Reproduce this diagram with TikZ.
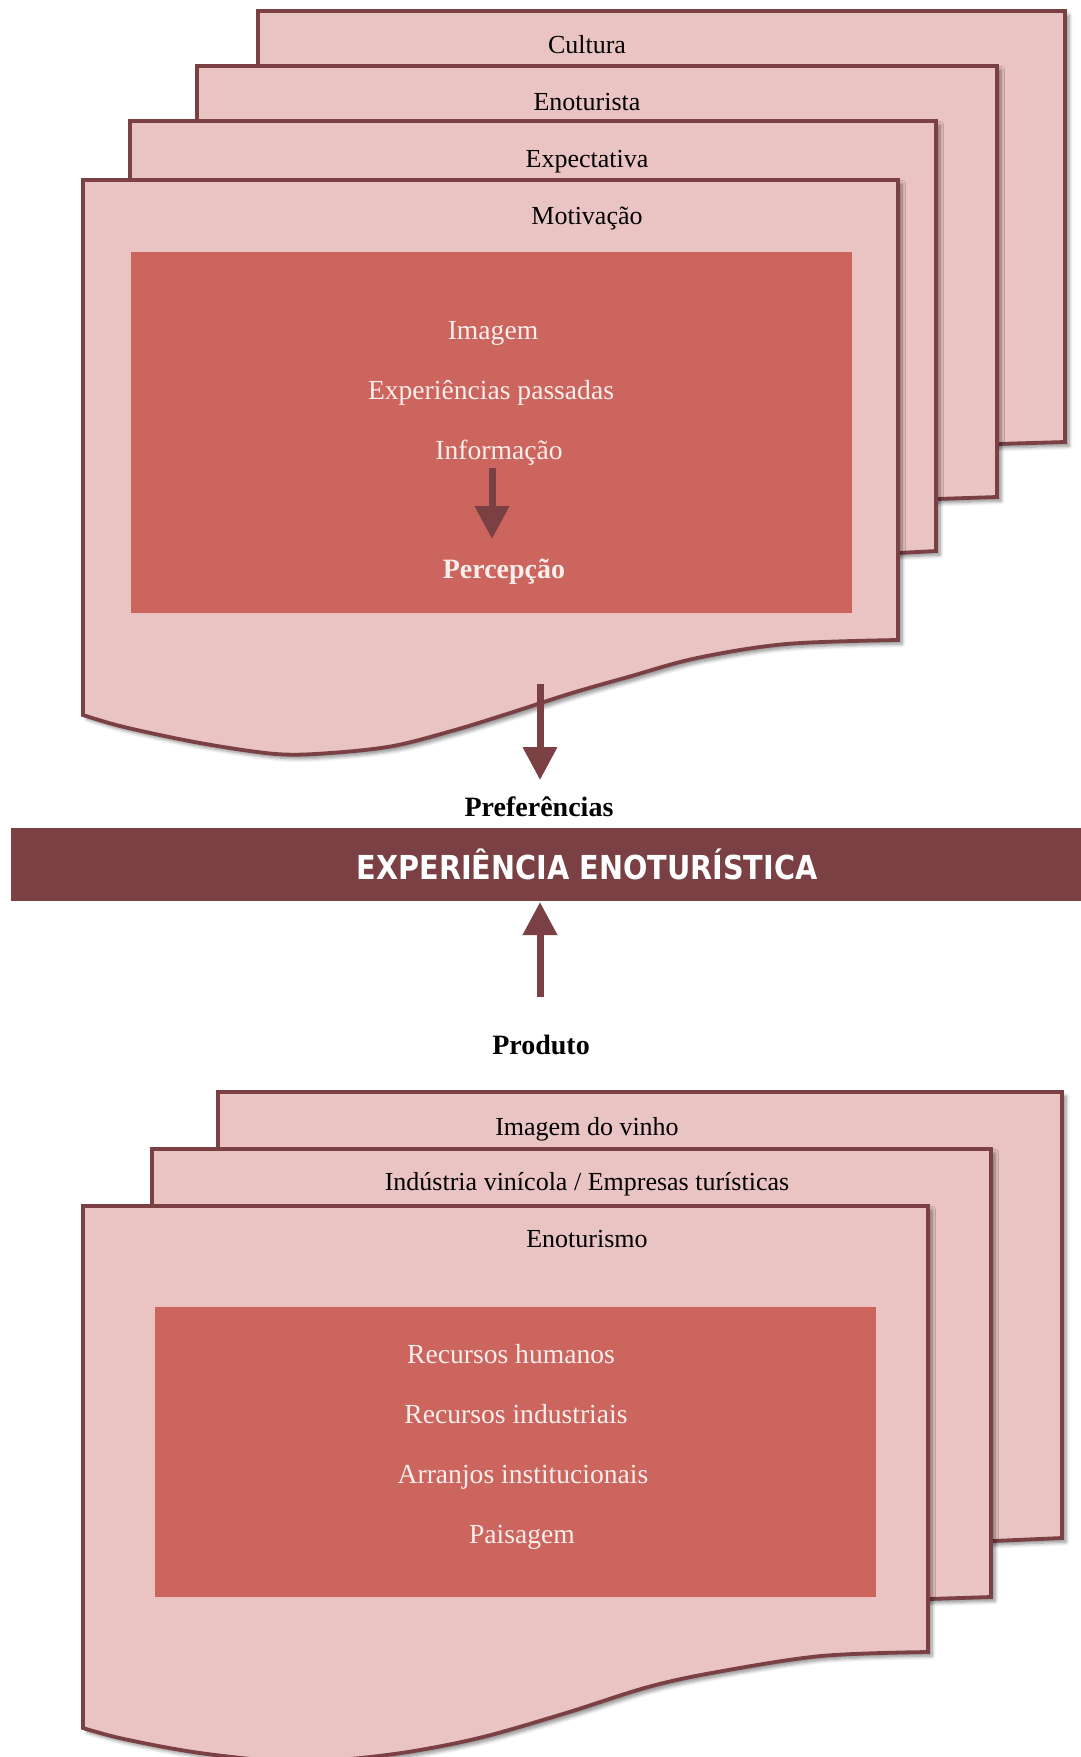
\documentclass[tikz,border=0pt]{standalone}
\usepackage{fontspec}
\setmainfont{Liberation Serif}
\newfontfamily\bannerfont{DejaVu Sans}
\usetikzlibrary{arrows.meta,shadows.blur}

\definecolor{sheetfill}{RGB}{234,196,195}
\definecolor{sheetline}{RGB}{122,64,68}
\definecolor{panelfill}{RGB}{204,101,94}
\definecolor{bannerfill}{RGB}{122,64,68}
\definecolor{paneltext}{RGB}{250,238,236}

\begin{document}
\begin{tikzpicture}[x=0.5pt,y=-0.5pt,
  sheet/.style={draw=sheetline, line width=1.9pt, fill=sheetfill, line join=miter,
    blur shadow={shadow xshift=2pt, shadow yshift=-2pt, shadow blur steps=6, shadow opacity=45}},
  panel/.style={fill=panelfill, draw=none},
  sheetlabel/.style={font=\fontsize{13}{15}\selectfont, anchor=base, inner sep=0pt},
  paneltxt/.style={font=\fontsize{13.8}{16}\selectfont, text=paneltext, anchor=base, inner sep=0pt},
  boldtxt/.style={font=\fontsize{14}{16}\selectfont\bfseries, anchor=base, inner sep=0pt},
  flow/.style={draw=sheetline, line width=3.5pt,
    -{Triangle[width=16.5pt,length=16.5pt]}},
]
\useasboundingbox (0,0) rectangle (1081,1757);
\clip (0,0) rectangle (1081,1757);

% ---------- upper stack of documents ----------
\path[sheet] (258,11) -- (1065,11) -- (1065,442) -- (997,444) -- (258,450) -- cycle;
\path[sheet] (197,66) -- (997,66) -- (997,497) -- (936,499) -- (197,505) -- cycle;
\path[sheet] (130,121) -- (936,121) -- (936,551) -- (898,553) -- (130,560) -- cycle;
\path[sheet] (83,180) -- (898,180) -- plot[smooth, tension=0.55] coordinates {
  (898,640) (786,644) (697,658) (628,677) (572,693) (510,713) (455,730)
  (393,746) (330,753) (276,754) (200,743) (124,727) (83,715)} -- cycle;
\fill[panel] (131,252) rectangle (852,613);

\node[sheetlabel] (cultura) at (587,53) {Cultura};
\node[sheetlabel] (enoturista) at (587,110) {Enoturista};
\node[sheetlabel] (expectativa) at (587,167) {Expectativa};
\node[sheetlabel] (motivacao) at (587,224) {Motivação};

\node[paneltxt] (imagem) at (493,339) {Imagem};
\node[paneltxt] (experiencias) at (491,399) {Experiências passadas};
\node[paneltxt] (informacao) at (499,459) {Informação};
\node[boldtxt, text=paneltext] (percepcao) at (504,578) {Percepção};

\coordinate (infoend) at (492,468);
\coordinate (percepcaotop) at (492,539);
\draw[flow] (infoend) -- (percepcaotop);

% ---------- central banner ----------
\coordinate (prefstart) at (540,684);
\coordinate (preftip) at (540,780);
\draw[flow] (prefstart) -- (preftip);
\node[boldtxt] (preferencias) at (539,816) {Preferências};

\node[fill=bannerfill, draw=none, minimum width=535pt, minimum height=36.5pt,
      inner sep=0pt, anchor=north west] (banner) at (11,828) {};
\node[anchor=base, inner sep=0pt, text=white,
      font=\bannerfont\bfseries\fontsize{16.5}{18}\selectfont] (bannertext) at (587,879)
      {\scalebox{0.87}[1]{EXPERIÊNCIA ENOTURÍSTICA}};

\coordinate (prodstart) at (540,997);
\coordinate (prodtip) at (540,902);
\draw[flow] (prodstart) -- (prodtip);
\node[boldtxt] (produto) at (541,1054) {Produto};

% ---------- lower stack of documents ----------
\path[sheet] (218,1092) -- (1062,1092) -- (1062,1538) -- (993,1541) -- (218,1548) -- cycle;
\path[sheet] (152,1149) -- (991,1149) -- (991,1597) -- (929,1599) -- (152,1606) -- cycle;
\path[sheet] (83,1206) -- (928,1206) -- plot[smooth, tension=0.55] coordinates {
  (928,1652) (821,1656) (717,1672) (648,1687) (566,1713) (483,1737) (414,1751)
  (350,1759) (290,1762) (200,1753) (124,1739) (83,1728)} -- cycle;
\fill[panel] (155,1307) rectangle (876,1597);

\node[sheetlabel] (vinho) at (587,1135) {Imagem do vinho};
\node[sheetlabel] (industria) at (587,1190) {Indústria vinícola / Empresas turísticas};
\node[sheetlabel] (enoturismo) at (587,1247) {Enoturismo};

\node[paneltxt] (humanos) at (511,1363) {Recursos humanos};
\node[paneltxt] (industriais) at (516,1423) {Recursos industriais};
\node[paneltxt] (arranjos) at (523,1483) {Arranjos institucionais};
\node[paneltxt] (paisagem) at (522,1543) {Paisagem};
\end{tikzpicture}
\end{document}
